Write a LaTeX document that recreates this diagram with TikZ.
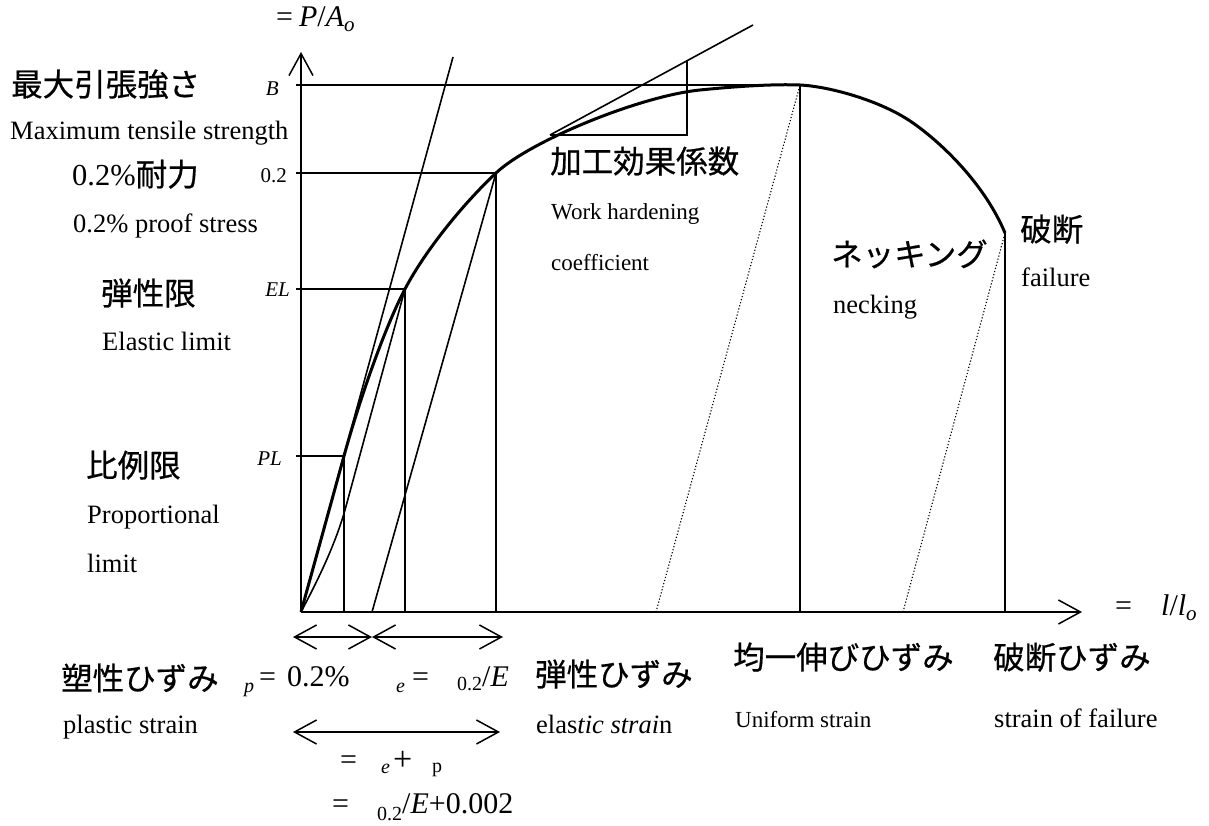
\documentclass[tikz,border=0pt]{standalone}
\usepackage{fontspec}
\setmainfont{Liberation Serif}
\newfontfamily\jp[FakeBold=0.6]{Noto Sans CJK JP}
\usetikzlibrary{arrows.meta}
\newcommand{\fs}[1]{\fontsize{#1}{#1}\selectfont}
\begin{document}
\begin{tikzpicture}[x=1pt,y=-1pt,
 ln/.style={line width=1.6pt},
 thk/.style={line width=3pt, line join=round},
 dots/.style={line width=1.1pt, dash pattern=on 1.2pt off 2pt},
 barb/.style={line width=1.5pt, -{Straight Barb[length=22pt,width=24pt]}},
 dbarb/.style={line width=1.5pt, {Straight Barb[length=22pt,width=24pt]}-{Straight Barb[length=22pt,width=24pt]}},
 jpl/.style={anchor=base west, inner sep=0pt, font=\jp\fs{31.5}},
 enl/.style={anchor=base west, inner sep=0pt, font=\fs{26.5}},
 ens/.style={anchor=base west, inner sep=0pt, font=\fs{23}},
 axl/.style={anchor=base east, inner sep=0pt, font=\fs{21}},
 mth/.style={anchor=base west, inner sep=0pt, font=\fs{30}},
 sbs/.style={anchor=base west, inner sep=0pt, font=\fs{20}},
 sbi/.style={anchor=base west, inner sep=0pt, font=\fs{20}\itshape},
]
\useasboundingbox (0,0) rectangle (1209,826);
% key points
\coordinate (O) at (301,612);
\coordinate (Ytip) at (301,52);
\coordinate (Xtip) at (1082,612);
\coordinate (PL) at (344,456);
\coordinate (EL) at (405,289);
\coordinate (P02) at (496,173);
\coordinate (M) at (800,85);
\coordinate (F) at (1005,233);
\coordinate (tB) at (296,85);
\coordinate (t02) at (296,173);
\coordinate (tEL) at (296,289);
\coordinate (tPL) at (296,456);
\coordinate (Etop) at (453,57);
\coordinate (Off) at (372,612);
\coordinate (T1) at (550,135);
\coordinate (T2) at (753,25);
\coordinate (T3) at (687,135);
\coordinate (T4) at (687,60);
\coordinate (D1) at (656,612);
\coordinate (D2) at (903,612);
\coordinate (d0) at (293,637);
\coordinate (d1) at (372,637);
\coordinate (d2) at (503,637);
\coordinate (e0) at (293,732);
\coordinate (e1) at (500,732);
% axes
\draw[barb] (O) -- (Ytip);
\draw[barb] (O) -- (Xtip);
% guide lines
\draw[ln] (tB) -- (M);
\draw[ln] (t02) -- (P02);
\draw[ln] (tEL) -- (EL);
\draw[ln] (tPL) -- (PL);
\draw[ln] (PL) -- (PL |- O);
\draw[ln] (EL) -- (EL |- O);
\draw[ln] (P02) -- (P02 |- O);
\draw[ln] (M) -- (M |- O);
\draw[ln] (F) -- (F |- O);
% elastic and offset lines
\draw[ln] (O) -- (Etop);
\draw[ln] (Off) -- (P02);
\draw[ln] (O) .. controls (318,580) and (335,545) .. (345,510) -- (EL);
% work hardening tangent
\draw[ln] (T1) -- (T2);
\draw[ln] (T1) -- (T3) -- (T4);
% dotted unloading lines
\draw[dots] (D1) -- (M);
\draw[dots] (D2) -- (F);
% stress-strain curve
\draw[thk] (O) -- (PL) .. controls (360,398) and (385,327) .. (EL)
  .. controls (425,251) and (462,205) .. (P02)
  .. controls (530,141) and (640,96) .. (700,90)
  .. controls (740,86) and (775,84) .. (M)
  .. controls (830,86.5) and (882,101) .. (913,123)
  .. controls (943,144) and (985,185) .. (F);
% dimension arrows
\draw[dbarb] (d0) -- (d1);
\draw[dbarb] (d1) -- (d2);
\draw[dbarb] (e0) -- (e1);
% axis labels
\node[mth] (ylab) at (276,27) {=\hspace{6pt}\textit{P}/\textit{A}\raisebox{-5pt}{\fs{21}\textit{o}}};
\node[mth] (xeq) at (1115,615) {=};
\node[mth] (xlab) at (1161,615) {\textit{l}/\textit{l}\raisebox{-5pt}{\fs{21}\textit{o}}};
\node[axl,font=\fs{21}\itshape] (lB) at (279,96) {B};
\node[axl] (l02) at (287,183) {0.2};
\node[axl,font=\fs{21}\itshape] (lEL) at (290,296) {EL};
\node[axl,font=\fs{21}\itshape] (lPL) at (282,465) {PL};
% left labels
\node[jpl] (j1) at (11,96) {最大引張強さ};
\node[enl] (e1t) at (10,140) {Maximum tensile strength};
\node[jpl] (j2) at (72,186) {{\fontspec{Liberation Serif}\fs{30.5}0.2\%}耐力};
\node[enl] (e2t) at (73,233) {0.2\% proof stress};
\node[jpl] (j3) at (101,305) {弾性限};
\node[enl] (e3t) at (102,350) {Elastic limit};
\node[jpl] (j4) at (86,477) {比例限};
\node[enl] (e4t) at (87,523) {Proportional};
\node[enl] (e4u) at (87,572) {limit};
% right labels
\node[jpl] (j5) at (550,173) {加工効果係数};
\node[ens] (e5t) at (551,220) {Work hardening};
\node[ens] (e5u) at (551,270) {coefficient};
\node[jpl] (j6) at (831,266) {ネッキング};
\node[enl] (e6t) at (833,313) {necking};
\node[jpl] (j7) at (1020,241) {破断};
\node[enl] (e7t) at (1021,287) {failure};
% bottom labels
\node[jpl] (j8) at (61,690) {塑性ひずみ};
\node[enl] (e8t) at (63,733) {plastic strain};
\node[jpl] (j9) at (535,686) {弾性ひずみ};
\node[enl] (e9t) at (536,733) {elas\textit{tic strai}n};
\node[jpl] (j10) at (733,669) {均一伸びひずみ};
\node[ens] (e10t) at (735,727) {Uniform strain};
\node[jpl] (j11) at (993,669) {破断ひずみ};
\node[enl] (e11t) at (994,727) {strain of failure};
% formulas
\node[sbi] (fp) at (244,692) {p};
\node[mth] (fpe) at (259,686) {=\hspace{11pt}0.2\%};
\node[sbi] (fe) at (396,692) {e};
\node[mth] (fee) at (412,686) {=};
\node[sbs] (f02) at (457,690) {0.2};
\node[mth] (fE) at (482,686) {/\textit{E}};
\node[mth] (g1) at (340,769) {=};
\node[sbi] (g2) at (381,773) {e};
\node[mth,font=\fs{34}] (g3) at (393,770) {+};
\node[sbs] (g4) at (432,772) {p};
\node[mth] (h1) at (332,813) {=};
\node[sbs] (h2) at (377,820) {0.2};
\node[mth] (h3) at (402,813) {/\textit{E}+0.002};
\end{tikzpicture}
\end{document}
